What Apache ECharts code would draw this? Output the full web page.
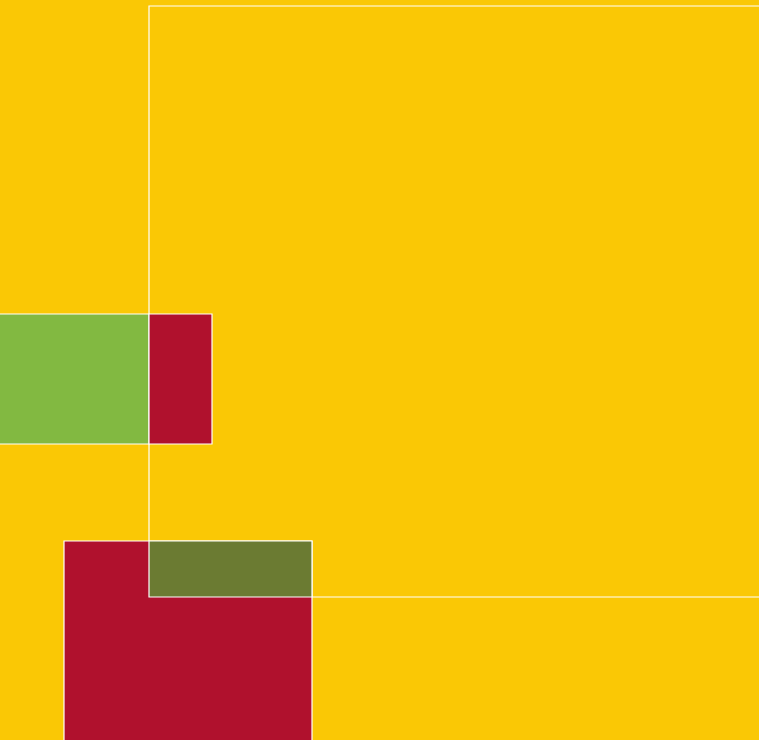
<!DOCTYPE html>
<html>
<head>
<meta charset="utf-8">
<script src="https://cdn.jsdelivr.net/npm/echarts@6/dist/echarts.min.js"></script>
<style>html,body{margin:0;padding:0;background:#FAC805;}#c{width:759px;height:740px;}</style>
</head>
<body>
<div id="c"></div>
<script>
// Rectangles in data units (x right, y down)
const names = ['base', 'main', 'green', 'redSmall', 'redBig', 'olive'];
const x0 = [-20, 149, -20, 149, 64, 149];
const x1 = [800, 790, 149, 212, 312, 312];
const y0 = [-20, 6, 314, 314, 541, 541];
const y1 = [780, 597, 444, 444, 780, 597];
const colorIdx = [0, 0, 1, 2, 2, 3];
const palette = ['#FAC805', '#82B941', '#B0112D', '#6B7B32'];
const borders = [false, true, true, true, true, true];

const data = names.map((n, i) => ({ name: n, value: [x0[i], y0[i], x1[i], y1[i], i] }));

const chart = echarts.init(document.getElementById('c'));
chart.setOption({
  backgroundColor: '#FAC805',
  animation: false,
  grid: { left: 0, right: 0, top: 0, bottom: 0 },
  xAxis: { type: 'value', min: 0, max: 759, show: false },
  yAxis: { type: 'value', min: 0, max: 740, inverse: true, show: false },
  series: [{
    type: 'custom',
    clip: true,
    data: data,
    renderItem: function (params, api) {
      const i = api.value(4);
      const p0 = api.coord([api.value(0), api.value(1)]);
      const p1 = api.coord([api.value(2), api.value(3)]);
      return {
        type: 'rect',
        shape: { x: p0[0], y: p0[1], width: p1[0] - p0[0], height: p1[1] - p0[1] },
        style: {
          fill: palette[colorIdx[i]],
          stroke: borders[i] ? '#ffffff' : null,
          lineWidth: borders[i] ? 1.2 : 0
        }
      };
    }
  }]
});
</script>
</body>
</html>
